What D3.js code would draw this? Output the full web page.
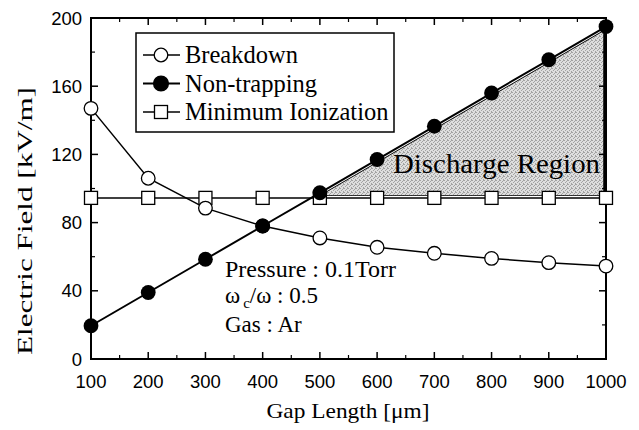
<!DOCTYPE html>
<html lang="en">
<head>
  <meta charset="UTF-8" />
  <title>Electric Field vs Gap Length</title>
  <style>
    body { margin: 0; background: #fff; }
  </style>
</head>
<body>
  <div id="chart"></div>
  <script src="https://d3js.org/d3.v7.min.js"></script>
  <script>
    // Data
    const gapLength = [100, 200, 300, 400, 500, 600, 700, 800, 900, 1000];
    const breakdown = [147, 106, 88.5, 78, 71, 65.5, 62, 59, 56.5, 54.5];
    const nonTrapping = [19.5, 39, 58.5, 78, 97.5, 117, 136.5, 156, 175.5, 195];
    const minIonization = [94.5, 94.5, 94.5, 94.5, 94.5, 94.5, 94.5, 94.5, 94.5, 94.5];
    const xTicks = [100, 200, 300, 400, 500, 600, 700, 800, 900, 1000];
    const yTicks = [0, 40, 80, 120, 160, 200];

    const SERIF = "'Liberation Serif', 'Times New Roman', Times, serif";
    const SANS = "'Liberation Sans', Arial, Helvetica, sans-serif";

    const width = 639, height = 430;
    const margin = { top: 18, right: 33, bottom: 71, left: 91 };

    const svg = d3.select("#chart").append("svg")
      .attr("width", width)
      .attr("height", height);

    const x = d3.scaleLinear().domain([100, 1000]).range([margin.left, width - margin.right]);
    const y = d3.scaleLinear().domain([0, 200]).range([height - margin.bottom, margin.top]);

    // Stipple pattern for the discharge region
    const defs = svg.append("defs");
    const pat = defs.append("pattern")
      .attr("id", "stipple")
      .attr("width", 4).attr("height", 4)
      .attr("patternUnits", "userSpaceOnUse");
    pat.append("rect").attr("width", 4).attr("height", 4).attr("fill", "#dedede");
    [[0, 0], [2, 1], [1, 2], [3, 3], [3, 0]].forEach(p => {
      pat.append("rect").attr("x", p[0]).attr("y", p[1])
        .attr("width", 1).attr("height", 1).attr("fill", "#a2a2a2");
    });

    // Discharge region: above min ionization, below non-trapping
    const pts = d3.zip(gapLength, nonTrapping, minIonization);
    let region = [];
    for (let i = 1; i < pts.length; i++) {
      const [x0, a0, m0] = pts[i - 1];
      const [x1, a1, m1] = pts[i];
      if (a0 < m0 && a1 >= m1) {
        const t = (m0 - a0) / ((a1 - a0) - (m1 - m0));
        region.push([x0 + t * (x1 - x0), m0 + t * (m1 - m0)]);
      }
      if (a1 >= m1) region.push([x1, a1]);
    }
    const lower = pts.filter(p => p[1] >= p[2]).reverse().map(p => [p[0], p[2]]);
    region = region.concat(lower);
    const regionPath = "M" + region.map(p => [x(p[0]), y(p[1])].join(",")).join("L") + "Z";

    defs.append("clipPath").attr("id", "regionClip")
      .append("path").attr("d", regionPath);

    const rg = svg.append("g").attr("clip-path", "url(#regionClip)");
    rg.append("path").attr("d", regionPath)
      .attr("fill", "url(#stipple)")
      .attr("stroke", "#000").attr("stroke-width", 5.5);

    const line = d3.line().x((d, i) => x(gapLength[i])).y(d => y(d));

    rg.append("path").datum(nonTrapping).attr("d", line)
      .attr("fill", "none").attr("stroke", "#fff").attr("stroke-width", 4);
    rg.append("path").datum(minIonization).attr("d", line)
      .attr("fill", "none").attr("stroke", "#fff").attr("stroke-width", 4);

    // Frame and ticks
    const x0 = margin.left, x1 = width - margin.right;
    const y0 = height - margin.bottom, y1 = margin.top;
    const ticksG = svg.append("g").attr("stroke", "#000");
    const xMinor = d3.range(150, 1000, 100);
    const yMinor = d3.range(20, 200, 40);
    xTicks.forEach(v => {
      ticksG.append("line").attr("x1", x(v)).attr("x2", x(v)).attr("y1", y0).attr("y2", y0 - 7).attr("stroke-width", 1.5);
      ticksG.append("line").attr("x1", x(v)).attr("x2", x(v)).attr("y1", y1).attr("y2", y1 + 7).attr("stroke-width", 1.5);
    });
    xMinor.forEach(v => {
      ticksG.append("line").attr("x1", x(v)).attr("x2", x(v)).attr("y1", y0).attr("y2", y0 - 4).attr("stroke-width", 1.2);
      ticksG.append("line").attr("x1", x(v)).attr("x2", x(v)).attr("y1", y1).attr("y2", y1 + 4).attr("stroke-width", 1.2);
    });
    yTicks.forEach(v => {
      ticksG.append("line").attr("y1", y(v)).attr("y2", y(v)).attr("x1", x0).attr("x2", x0 + 7).attr("stroke-width", 1.5);
      ticksG.append("line").attr("y1", y(v)).attr("y2", y(v)).attr("x1", x1).attr("x2", x1 - 7).attr("stroke-width", 1.5);
    });
    yMinor.forEach(v => {
      ticksG.append("line").attr("y1", y(v)).attr("y2", y(v)).attr("x1", x0).attr("x2", x0 + 4).attr("stroke-width", 1.2);
      ticksG.append("line").attr("y1", y(v)).attr("y2", y(v)).attr("x1", x1).attr("x2", x1 - 4).attr("stroke-width", 1.2);
    });
    svg.append("rect")
      .attr("x", x0).attr("y", y1)
      .attr("width", x1 - x0).attr("height", y0 - y1)
      .attr("fill", "none").attr("stroke", "#000").attr("stroke-width", 2);

    // Tick labels
    svg.append("g").selectAll("text").data(xTicks).join("text")
      .attr("font-family", SANS)
      .attr("x", d => x(d)).attr("y", y0 + 29)
      .attr("text-anchor", "middle")
      .attr("font-size", 18.5)
      .text(d => d);
    svg.append("g").selectAll("text").data(yTicks).join("text")
      .attr("font-family", SANS)
      .attr("x", x0 - 9).attr("y", d => y(d) + 6.5)
      .attr("text-anchor", "end")
      .attr("font-size", 18.5)
      .text(d => d);

    // Axis titles
    svg.append("text")
      .attr("font-family", SERIF)
      .attr("x", 348).attr("y", 418)
      .attr("text-anchor", "middle")
      .attr("font-size", 22)
      .attr("textLength", 163).attr("lengthAdjust", "spacingAndGlyphs")
      .text("Gap Length [\u03bcm]");
    svg.append("text")
      .attr("font-family", SERIF)
      .attr("transform", "translate(32,221) rotate(-90)")
      .attr("text-anchor", "middle")
      .attr("font-size", 22)
      .attr("textLength", 268).attr("lengthAdjust", "spacingAndGlyphs")
      .text("Electric Field [kV/m]");

    // Series lines
    svg.append("path").datum(minIonization).attr("d", line)
      .attr("fill", "none").attr("stroke", "#000").attr("stroke-width", 1.5);
    svg.append("path").datum(breakdown).attr("d", line)
      .attr("fill", "none").attr("stroke", "#000").attr("stroke-width", 1.5);
    svg.append("path").datum(nonTrapping).attr("d", line)
      .attr("fill", "none").attr("stroke", "#000").attr("stroke-width", 2);

    // Markers
    const sq = 13, r = 6.8;
    svg.append("g").selectAll("rect").data(minIonization).join("rect")
      .attr("x", (d, i) => x(gapLength[i]) - sq / 2)
      .attr("y", d => y(d) - sq / 2)
      .attr("width", sq).attr("height", sq)
      .attr("fill", "#fff").attr("stroke", "#000").attr("stroke-width", 1.3);
    svg.append("g").selectAll("circle").data(breakdown).join("circle")
      .attr("cx", (d, i) => x(gapLength[i])).attr("cy", d => y(d)).attr("r", r)
      .attr("fill", "#fff").attr("stroke", "#000").attr("stroke-width", 1.3);
    svg.append("g").selectAll("circle").data(nonTrapping).join("circle")
      .attr("cx", (d, i) => x(gapLength[i])).attr("cy", d => y(d)).attr("r", r + 0.6)
      .attr("fill", "#000");

    // Annotations
    svg.append("text")
      .attr("font-family", SERIF)
      .attr("x", 393).attr("y", 173)
      .attr("font-size", 27)
      .attr("textLength", 207).attr("lengthAdjust", "spacingAndGlyphs")
      .text("Discharge Region");

    const note = svg.append("g").attr("font-family", SERIF).attr("font-size", 23);
    note.append("text")
      .attr("x", 225).attr("y", 277)
      .attr("textLength", 171).attr("lengthAdjust", "spacingAndGlyphs")
      .text("Pressure : 0.1Torr");
    const w = note.append("text")
      .attr("x", 225).attr("y", 303);
    w.append("tspan").text("\u03c9");
    w.append("tspan").attr("dy", 5).attr("dx", 3).attr("font-size", 15).text("c");
    w.append("tspan").attr("dy", -5).text("/\u03c9 : 0.5");
    note.append("text")
      .attr("x", 225).attr("y", 332)
      .text("Gas : Ar");

    // Legend
    const legend = svg.append("g");
    legend.append("rect")
      .attr("x", 136).attr("y", 33).attr("width", 258).attr("height", 99)
      .attr("fill", "#fff").attr("stroke", "#000").attr("stroke-width", 1.5);
    const legendItems = [
      { label: "Breakdown", kind: "open" },
      { label: "Non-trapping", kind: "filled" },
      { label: "Minimum Ionization", kind: "square" }
    ];
    const ly = d3.scalePoint().domain(legendItems.map(d => d.label)).range([55, 112]);
    legendItems.forEach(d => {
      const cy = ly(d.label);
      legend.append("line").attr("x1", 143).attr("x2", 180).attr("y1", cy).attr("y2", cy)
        .attr("stroke", "#000").attr("stroke-width", d.kind === "filled" ? 2 : 1.5);
      if (d.kind === "square") {
        legend.append("rect").attr("x", 161 - sq / 2).attr("y", cy - sq / 2)
          .attr("width", sq).attr("height", sq)
          .attr("fill", "#fff").attr("stroke", "#000").attr("stroke-width", 1.3);
      } else {
        legend.append("circle").attr("cx", 161).attr("cy", cy)
          .attr("r", d.kind === "filled" ? r + 0.6 : r)
          .attr("fill", d.kind === "filled" ? "#000" : "#fff")
          .attr("stroke", "#000").attr("stroke-width", 1.3);
      }
      legend.append("text")
        .attr("font-family", SERIF)
        .attr("x", 185).attr("y", cy + 8)
        .attr("font-size", 24.5)
        .text(d.label);
    });
  </script>
</body>
</html>
